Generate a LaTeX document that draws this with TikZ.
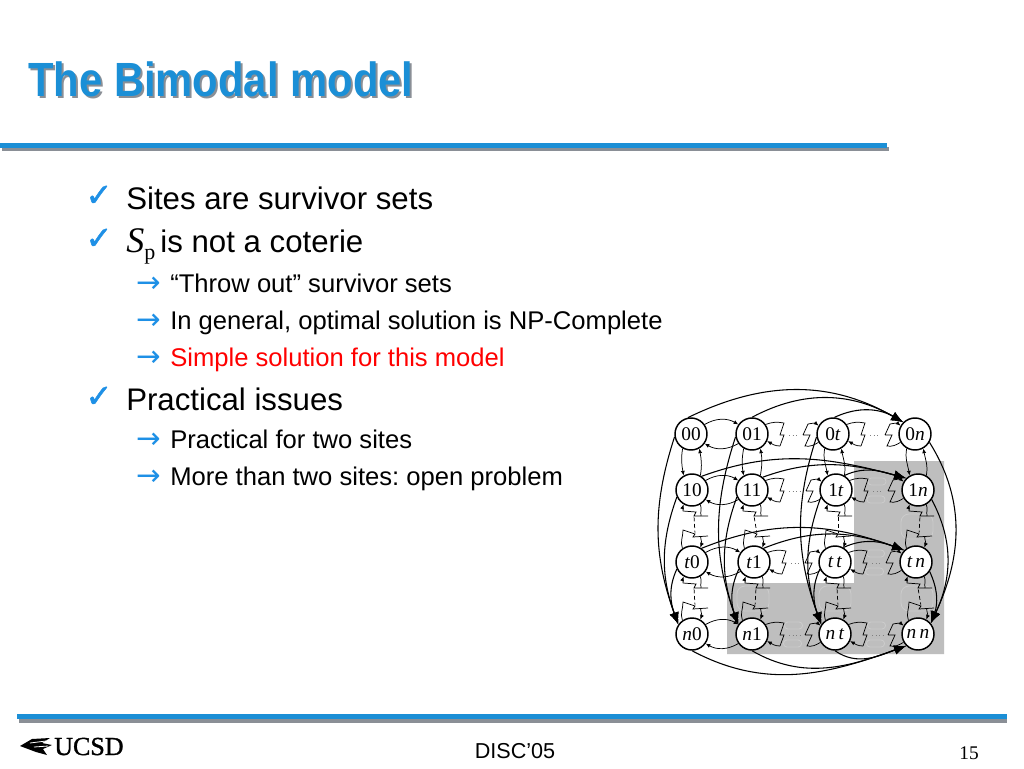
\documentclass[tikz,border=0pt]{standalone}
\usepackage{fontspec}
\setmainfont{Liberation Sans}
\newfontfamily\timesfont{Liberation Serif}
\newfontfamily\logofont[FakeBold=1.2]{Liberation Serif}
\newfontfamily\symbfont{DejaVu Sans}
\newfontfamily\tickfont[FakeBold=1.5]{DejaVu Sans}
\usetikzlibrary{arrows.meta, calc}
\frenchspacing
\definecolor{slideblue}{HTML}{1B8FD6}
\definecolor{shadowgray}{HTML}{8A8F96}
\definecolor{regiongray}{HTML}{BEBEBE}
\definecolor{ghostgray}{HTML}{CCCCCC}
\definecolor{tickblue}{HTML}{1E90E6}
\tikzset{
	site/.style={draw, circle, line width=1.1pt, fill=white, minimum size=24pt, inner sep=0pt, font=\timesfont\fontsize{14.5}{14.5}\selectfont},
	longarc/.style={line width=0.8pt, -{Latex[length=9pt, width=7pt]}},
	thinline/.style={line width=0.55pt},
	nearlink/.style={thinline, -{Latex[length=3.5pt, width=3pt]}},
	bullet/.style={anchor=base west, inner sep=0pt, font=\fontsize{23.4}{23.4}\selectfont},
	subbullet/.style={anchor=base west, inner sep=0pt, font=\fontsize{19.2}{19.2}\selectfont},
	tick/.style={anchor=base, inner sep=0pt, text=tickblue, font=\tickfont\fontsize{24}{24}\selectfont},
	pointer/.style={anchor=base, inner sep=0pt, text=tickblue, font=\symbfont\fontsize{22}{22}\selectfont},
	ghost/.style={draw=ghostgray, line width=0.6pt, rounded corners=2.5pt},
}
% two arcs side by side
\newcommand{\nearh}[2]{
	\draw[nearlink] (#1.35) to[out=30, in=150] (#2.145);
	\draw[nearlink] (#2.215) to[out=210, in=-30] (#1.-35);
}
\newcommand{\nearv}[2]{
	\draw[nearlink] (#1.-120) to[out=-100, in=100] (#2.120);
	\draw[nearlink] (#2.60) to[out=80, in=-80] (#1.-60);
}
% broken link along a row
\newcommand{\farh}[2]{
	\path (#1) ++(32,-11) coordinate (za) ++(-4,12) coordinate (zb) ++(4,0) coordinate (zc) ++(-4,11) coordinate (zd);
	\path (#2) ++(-25,-10) coordinate (ya) ++(-5,11) coordinate (yb) ++(7,0) coordinate (yc) ++(-5,11) coordinate (yd);
	\draw[thinline] (#1.35) to[out=20, in=170] (za) -- (zb) -- (zc) -- (zd);
	\draw[nearlink] (zd) to[out=180, in=-30] (#1.-25);
	\draw[nearlink] (ya) to[out=10, in=140] (#2.150);
	\draw[thinline] (yb) -- (ya) (yb) -- (yc) -- (yd) to[out=-10, in=-150] (#2.-150);
	\draw[thinline, dotted, gray, shorten <=4pt, shorten >=4pt] (zc) -- (yb);
}
% broken link down a column
\newcommand{\farv}[2]{
	\path (#1) ++(-9,21) coordinate (za) ++(13,1) coordinate (zb) ++(-2,4) coordinate (zc) ++(14,0) coordinate (zd);
	\path (#2) ++(-9,-32) coordinate (ya) ++(12,4) coordinate (yb) ++(-2,3) coordinate (yc) ++(15,-1) coordinate (yd);
	\draw[nearlink] (za) to[out=80, in=-110] (#1.-120);
	\draw[thinline] (za) -- (zb) -- (zc) -- (zd);
	\draw[thinline] (#1.-60) to[out=-70, in=100] ($(zc)!.5!(zd)$);
	\draw[thinline] (#2.125) to[out=110, in=-90] (ya) -- (yb) -- (yc) -- (yd);
	\draw[nearlink] ($(yc)!.5!(yd)$) to[out=-80, in=70] (#2.60);
	\draw[thinline, densely dashed, shorten <=1pt, shorten >=1pt] (zc) -- (yb);
}
% pale outlines left in the grey region
\newcommand{\ghosth}[2]{
	\draw[ghost] ($(#1)!.5!(#2)+(-9,-12)$) rectangle ++(18,7);
	\draw[ghost] ($(#1)!.5!(#2)+(-10,6)$) rectangle ++(18,7);
}
\newcommand{\ghostv}[2]{
	\draw[ghost, rounded corners=6pt] ($(#1)!.5!(#2)+(-16,-12)$) rectangle ++(32,25);
}

\begin{document}
\begin{tikzpicture}[x=0.75pt, y=-0.75pt]
	\useasboundingbox (0, 0) rectangle (1024, 768);
	\fill[white] (0, 0) rectangle (1024, 768);

	% title and rules
	\node[anchor=base west, inner sep=0pt, text=shadowgray, font=\bfseries\fontsize{36}{36}\selectfont] at (30, 98) {\scalebox{0.87}[1]{The Bimodal model}};
	\node (title) [anchor=base west, inner sep=0pt, text=slideblue, font=\bfseries\fontsize{36}{36}\selectfont] at (28, 96) {\scalebox{0.87}[1]{The Bimodal model}};
	\fill[shadowgray] (2, 147) rectangle (889, 151);
	\fill[slideblue] (0, 143) rectangle (887, 148);
	\fill[shadowgray] (19, 719) rectangle (1007, 723);
	\fill[slideblue] (17, 714) rectangle (1007, 719);

	% text
	\node[tick] at (99, 206) {✓};
	\node[tick] at (99, 249) {✓};
	\node[tick] at (99, 407) {✓};
	\node[bullet] at (126, 209) {Sites are survivor sets};
	\node[bullet] at (126, 252) {{\timesfont\itshape\fontsize{27}{27}\selectfont S}\raisebox{-5.5pt}{\timesfont\fontsize{16.5}{16.5}\selectfont p}\,is not a coterie};
	\node[bullet] at (126, 410) {Practical issues};
	\foreach \ypos/\txt/\clr in {
		292/{“Throw out” survivor sets}/black,
		329/{In general, optimal solution is NP-Complete}/black,
		366/{Simple solution for this model}/red,
		448/{Practical for two sites}/black,
		485/{More than two sites: open problem}/black} {
		\node[pointer] at (149, \ypos) {→};
		\node[subbullet, text=\clr] at (170, \ypos) {\txt};
	}

	% footer
	\node[anchor=base, inner sep=0pt, font=\fontsize{16.2}{16.2}\selectfont] at (515, 758) {DISC’05};
	\node[anchor=base, inner sep=0pt, font=\timesfont\fontsize{14.5}{14.5}\selectfont] at (969, 759) {15};
	\fill (20, 746) -- (32, 739) -- (50, 738) -- (42, 743) -- (52, 745) -- (43, 749) -- (47, 755) -- (36, 752) -- cycle;
	\draw[white, line width=0.6pt] (30, 743) -- (46, 741) (34, 747) -- (48, 746);
	\node[anchor=base west, inner sep=0pt, font=\logofont\fontsize{19.5}{19.5}\selectfont] at (54, 755) {UCSD};

	% region
	\fill[regiongray] (854, 461) -- (944, 461) -- (944, 654) -- (727, 654) -- (727, 583) -- (854, 583) -- cycle;

	% sites
	\foreach \nm/\xpos/\ypos/\txt in {
		00/691/434/00, 01/752/434/01, 0t/833/434/0\textit{t}, 0n/915/434/0\textit{n},
		10/692/490/10, 11/752/490/11, 1t/836/490/1\textit{t}, 1n/918/490/1\textit{n},
		t0/692/562/\textit{t}0, t1/754/562/\textit{t}1, tt/835/562/\textit{t\,t}, tn/916/562/\textit{t\,n},
		n0/692/634/\textit{n}0, n1/752/634/\textit{n}1, nt/835/634/\textit{n\,t}, nn/918/634/\textit{n\,n}}
		\node[site] (v\nm) at (\xpos, \ypos) {\txt};

	\ghosth{v1t}{v1n}
	\ghosth{vtt}{vtn}
	\ghosth{vn1}{vnt}
	\ghosth{vnt}{vnn}
	\ghostv{v1n}{vtn}
	\ghostv{vtn}{vnn}
	\ghostv{vt1}{vn1}
	\ghostv{vtt}{vnt}

	% links between neighbours
	\foreach \rw in {0, 1, t, n} {
		\nearh{v\rw0}{v\rw1}
		\farh{v\rw1}{v\rw t}
		\farh{v\rw t}{v\rw n}
	}
	\foreach \cl in {0, 1, t, n} {
		\nearv{v0\cl}{v1\cl}
		\farv{v1\cl}{vt\cl}
		\farv{vt\cl}{vn\cl}
	}

	% long arcs along rows
	\draw[longarc] (v00.100) to[out=26, in=150] (v0n.135);
	\draw[longarc] (v01.90) to[out=28, in=150] (v0n.135);
	\draw[longarc] (v0t.85) to[out=25, in=150] (v0n.135);
	\draw[longarc] (v10.55) to[out=20, in=165] (v1n.135);
	\draw[longarc] (v11.50) to[out=20, in=165] (v1n.135);
	\draw[longarc] (v1t.60) to[out=25, in=165] (v1n.135);
	\draw[longarc] (vt0.55) to[out=22, in=160] (vtn.135);
	\draw[longarc] (vt1.55) to[out=22, in=160] (vtn.135);
	\draw[longarc] (vtt.60) to[out=25, in=160] (vtn.135);
	\draw[longarc] (vn0.-90) to[out=-28, in=-160] (vnn.-135);
	\draw[longarc] (vn1.-90) to[out=-30, in=-160] (vnn.-135);
	\draw[longarc] (vnt.-90) to[out=-35, in=-160] (vnn.-135);

	% long arcs along columns
	\foreach \cl in {0, 1, t} {
		\draw[longarc] (v0\cl.190) to[out=252, in=110] (vn\cl.145);
		\draw[longarc] (v1\cl.205) to[out=250, in=110] (vn\cl.145);
		\draw[longarc] (vt\cl.205) to[out=245, in=110] (vn\cl.145);
	}
	\draw[longarc] (v0n.-30) to[out=-58, in=65] (vnn.40);
	\draw[longarc] (v1n.-35) to[out=-62, in=65] (vnn.40);
	\draw[longarc] (vtn.-35) to[out=-65, in=70] (vnn.40);
\end{tikzpicture}
\end{document}
